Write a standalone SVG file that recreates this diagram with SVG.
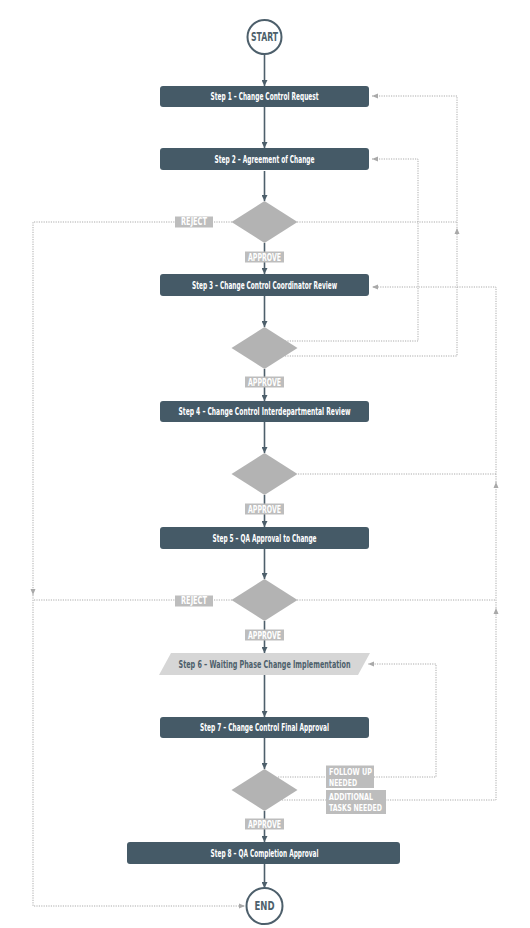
<svg xmlns="http://www.w3.org/2000/svg" width="530" height="928" viewBox="0 0 530 928">
<style>
.step{fill:#455a67}
.stxt{fill:#ffffff;font-family:"Liberation Sans Narrow","DejaVu Sans Condensed","Liberation Sans",sans-serif;font-size:10px;font-weight:bold;text-anchor:middle}
.dia{fill:#b3b3b3}
.circ{fill:#ffffff;stroke:#4d5f6b;stroke-width:2}
.ctxt{fill:#4d5f6b;font-family:"Liberation Sans Narrow","DejaVu Sans Condensed","Liberation Sans",sans-serif;font-size:11.5px;font-weight:bold;text-anchor:middle}
.flow{fill:none;stroke:#4d5f6b;stroke-width:1.6}
.dot{fill:none;stroke:#ababab;stroke-width:1;stroke-dasharray:1.2 1.2}
.lbl{fill:#bdbdbd}
.ltxt{fill:#ffffff;font-family:"Liberation Sans Narrow","DejaVu Sans Condensed","Liberation Sans",sans-serif;font-size:10px;font-weight:bold}
.ltxt2{fill:#ffffff;font-family:"Liberation Sans Narrow","DejaVu Sans Condensed","Liberation Sans",sans-serif;font-size:9px;font-weight:bold}
</style>
<defs>
<marker id="ad" markerWidth="6" markerHeight="6" refX="6" refY="3" orient="auto" markerUnits="userSpaceOnUse"><path d="M0,0 L6,3 L0,6 z" fill="#4d5f6b"/></marker>
<marker id="ag" markerWidth="6" markerHeight="6" refX="6" refY="3" orient="auto" markerUnits="userSpaceOnUse"><path d="M0,0.5 L6,3 L0,5.5 z" fill="#a9a9a9"/></marker>
</defs>
<rect width="530" height="928" fill="#ffffff"/>
<g id="connectors">
<path class="flow" d="M264.5,54 V86" marker-end="url(#ad)"/>
<path class="flow" d="M264.5,107 V148" marker-end="url(#ad)"/>
<path class="flow" d="M264.5,171 V201" marker-end="url(#ad)"/>
<path class="flow" d="M264.5,243 V274" marker-end="url(#ad)"/>
<path class="flow" d="M264.5,296 V327" marker-end="url(#ad)"/>
<path class="flow" d="M264.5,369 V401" marker-end="url(#ad)"/>
<path class="flow" d="M264.5,422 V453" marker-end="url(#ad)"/>
<path class="flow" d="M264.5,495 V527" marker-end="url(#ad)"/>
<path class="flow" d="M264.5,549 V579" marker-end="url(#ad)"/>
<path class="flow" d="M264.5,621 V653" marker-end="url(#ad)"/>
<path class="flow" d="M264.5,675 V717" marker-end="url(#ad)"/>
<path class="flow" d="M264.5,738 V769" marker-end="url(#ad)"/>
<path class="flow" d="M264.5,811 V842" marker-end="url(#ad)"/>
<path class="flow" d="M264.5,864 V888" marker-end="url(#ad)"/>
<path class="dot" d="M232,222 H33 V595" marker-end="url(#ag)"/>
<path class="dot" d="M33,595 V906 H245" marker-end="url(#ag)"/>
<path class="dot" d="M232,600 H33"/>
<path class="dot" d="M297,222 H457"/>
<path class="dot" d="M285,356 H457 V228" marker-end="url(#ag)"/>
<path class="dot" d="M457,228 V96 H372" marker-end="url(#ag)"/>
<path class="dot" d="M285,341 H418 V159 H372" marker-end="url(#ag)"/>
<path class="dot" d="M298,474 H496"/>
<path class="dot" d="M297,600 H496"/>
<path class="dot" d="M282,800 H496 V608" marker-end="url(#ag)"/>
<path class="dot" d="M496,608 V482" marker-end="url(#ag)"/>
<path class="dot" d="M496,482 V287 H372" marker-end="url(#ag)"/>
<path class="dot" d="M278,777 H436 V664 H368" marker-end="url(#ag)"/>
<g id="labels">
<rect class="lbl" x="175" y="216.5" width="38" height="11"/>
<text class="ltxt" x="194" y="225" text-anchor="middle" textLength="26" lengthAdjust="spacingAndGlyphs">REJECT</text>
<rect class="lbl" x="175" y="595.5" width="38" height="11"/>
<text class="ltxt" x="194" y="604" text-anchor="middle" textLength="26" lengthAdjust="spacingAndGlyphs">REJECT</text>
<rect class="lbl" x="245" y="251.5" width="39" height="11"/>
<text class="ltxt" x="264.5" y="261" text-anchor="middle" textLength="33" lengthAdjust="spacingAndGlyphs">APPROVE</text>
<rect class="lbl" x="245" y="376.5" width="39" height="11"/>
<text class="ltxt" x="264.5" y="386" text-anchor="middle" textLength="33" lengthAdjust="spacingAndGlyphs">APPROVE</text>
<rect class="lbl" x="245" y="503.5" width="39" height="11"/>
<text class="ltxt" x="264.5" y="513" text-anchor="middle" textLength="33" lengthAdjust="spacingAndGlyphs">APPROVE</text>
<rect class="lbl" x="245" y="629.5" width="39" height="11"/>
<text class="ltxt" x="264.5" y="639" text-anchor="middle" textLength="33" lengthAdjust="spacingAndGlyphs">APPROVE</text>
<rect class="lbl" x="245" y="818.5" width="39" height="11"/>
<text class="ltxt" x="264.5" y="828" text-anchor="middle" textLength="33" lengthAdjust="spacingAndGlyphs">APPROVE</text>
<rect class="lbl" x="326" y="765.5" width="48" height="22.5"/>
<text class="ltxt2" x="329" y="775" textLength="43" lengthAdjust="spacingAndGlyphs">FOLLOW UP</text>
<text class="ltxt2" x="329" y="785.5" textLength="28" lengthAdjust="spacingAndGlyphs">NEEDED</text>
<rect class="lbl" x="326" y="790" width="60" height="24"/>
<text class="ltxt2" x="329" y="800" textLength="44" lengthAdjust="spacingAndGlyphs">ADDITIONAL</text>
<text class="ltxt2" x="329" y="810.5" textLength="53" lengthAdjust="spacingAndGlyphs">TASKS NEEDED</text>
</g>
</g>
<g id="start"><circle class="circ" cx="264.5" cy="37" r="17"/><text class="ctxt" x="264.5" y="41" textLength="27" lengthAdjust="spacingAndGlyphs">START</text></g>
<g id="step1"><rect class="step" x="160" y="86" width="209" height="21" rx="3"/><text class="stxt" x="264.5" y="99.5" textLength="108" lengthAdjust="spacingAndGlyphs">Step 1 – Change Control Request</text></g>
<g id="step2"><rect class="step" x="160" y="148" width="209" height="22" rx="3"/><text class="stxt" x="264.5" y="162.5" textLength="100" lengthAdjust="spacingAndGlyphs">Step 2 – Agreement of Change</text></g>
<g id="decision1"><polygon class="dia" points="264.5,201 297.5,222 264.5,243 231.5,222"/></g>
<g id="step3"><rect class="step" x="160" y="274" width="209" height="22" rx="3"/><text class="stxt" x="264.5" y="288.5" textLength="145" lengthAdjust="spacingAndGlyphs">Step 3 – Change Control Coordinator Review</text></g>
<g id="decision2"><polygon class="dia" points="264.5,327 297.5,348 264.5,369 231.5,348"/></g>
<g id="step4"><rect class="step" x="160" y="401" width="209" height="21" rx="3"/><text class="stxt" x="264.5" y="415" textLength="172" lengthAdjust="spacingAndGlyphs">Step 4 – Change Control Interdepartmental Review</text></g>
<g id="decision3"><polygon class="dia" points="264.5,453 297.5,474 264.5,495 231.5,474"/></g>
<g id="step5"><rect class="step" x="160" y="527" width="209" height="22" rx="3"/><text class="stxt" x="264.5" y="541.5" textLength="104" lengthAdjust="spacingAndGlyphs">Step 5 – QA Approval to Change</text></g>
<g id="decision4"><polygon class="dia" points="264.5,579 297.5,600 264.5,621 231.5,600"/></g>
<g id="step6"><polygon points="171,653 370,653 358,675 159,675" fill="#d6d6d6"/><text class="stxt" x="264.5" y="668" style="fill:#4d5f6b" textLength="172" lengthAdjust="spacingAndGlyphs">Step 6 – Waiting Phase Change Implementation</text></g>
<g id="step7"><rect class="step" x="160" y="717" width="209" height="21" rx="3"/><text class="stxt" x="264.5" y="731" textLength="129" lengthAdjust="spacingAndGlyphs">Step 7 – Change Control Final Approval</text></g>
<g id="decision5"><polygon class="dia" points="264.5,769 297.5,790 264.5,811 231.5,790"/></g>
<g id="step8"><rect class="step" x="127" y="842" width="273" height="22" rx="3"/><text class="stxt" x="264.5" y="856.5" textLength="108" lengthAdjust="spacingAndGlyphs">Step 8 – QA Completion Approval</text></g>
<g id="end"><circle class="circ" cx="264.5" cy="906" r="18"/><text class="ctxt" x="264.5" y="910" textLength="20" lengthAdjust="spacingAndGlyphs">END</text></g>
</svg>
